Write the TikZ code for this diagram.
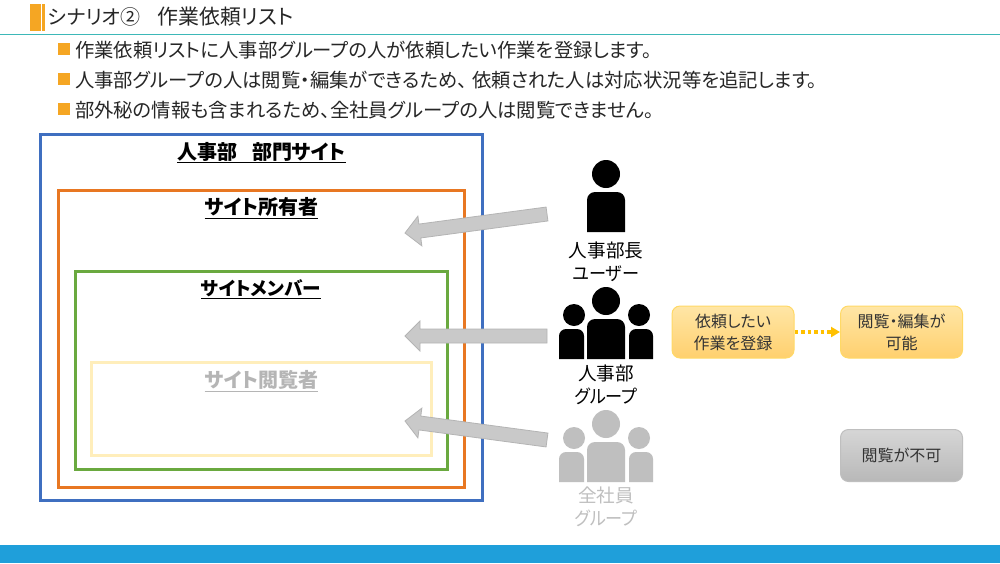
\documentclass[tikz,border=0pt]{standalone}
\usepackage{fontspec}
\usepackage{graphicx}
\setmainfont[RawFeature=+palt]{Noto Sans CJK JP}
\usetikzlibrary{calc,arrows.meta}
\definecolor{cBlue}{HTML}{3F6FC0}
\definecolor{cOrange}{HTML}{E87722}
\definecolor{cGreen}{HTML}{6AA93F}
\definecolor{cCream}{HTML}{FFEEBB}
\definecolor{cAccent}{HTML}{F5A623}
\definecolor{cTeal}{HTML}{3DB8B8}
\definecolor{cBar}{HTML}{1F9FDA}
\definecolor{cGrayP}{HTML}{BFBFBF}
\definecolor{cHead}{HTML}{B5B5B5}
\definecolor{cArrow}{HTML}{C9C9C9}
\definecolor{cArrowE}{HTML}{B4B4B4}
\definecolor{cDot}{HTML}{FFC000}
\definecolor{cGoldT}{HTML}{FFE6A6}
\definecolor{cGoldB}{HTML}{FFD06E}
\definecolor{cGoldE}{HTML}{FFD966}
\definecolor{cGrayT}{HTML}{D6D6D6}
\definecolor{cGrayB}{HTML}{B8B8B8}
\definecolor{cGrayE}{HTML}{BFBFBF}
\newcommand{\narrowkana}[1]{\scalebox{0.92}[1]{#1}}
\tikzset{
  framebox/.style={draw=#1,line width=3pt,fill=none},
  bul/.style={fill=cAccent,draw=none},
  bodytext/.style={anchor=west,inner sep=0pt,font=\fontsize{19.35}{19}\selectfont,text=black!85},
  hdr/.style={inner sep=0pt,font=\fontsize{20}{20}\bfseries\selectfont,text=black},
  lbl/.style={inner sep=0pt,align=center,font=\fontsize{18.6}{23}\selectfont,text=#1},
  lbl/.default=black,
  softbox/.style={rounded corners=8pt,line width=1pt,
     inner sep=0pt,align=center,minimum width=122pt,minimum height=52pt,
     font=\fontsize{16}{22}\selectfont,text=black!80},
  yellowbox/.style={softbox,draw=cGoldE,top color=cGoldT,bottom color=cGoldB},
  graybox/.style={softbox,draw=cGrayE,top color=cGrayT,bottom color=cGrayB},
  blockarrow/.style={fill=cArrow,draw=cArrowE,line width=0.8pt,line join=miter},
  dotarrow/.style={draw=cDot,line width=3.5pt,dash pattern=on 3.5pt off 3pt,
     -{Triangle[length=9pt,width=10pt,fill=cDot]}},
}
\newcommand{\blockarr}[2]{%
  \coordinate (ba1) at ($(#2)!15pt!(#1)$);
  \draw[blockarrow] ($(#1)!7pt!90:(#2)$) -- ($(ba1)!7pt!90:(#2)$) -- ($(ba1)!15pt!90:(#2)$) -- (#2)
    -- ($(ba1)!15pt!-90:(#2)$) -- ($(ba1)!7pt!-90:(#2)$) -- ($(#1)!7pt!-90:(#2)$) -- cycle;}
\newcommand{\groupfig}[2]{% y offset, colour
  \fill[#2] (606,301+#1) circle (14);
  \fill[#2] (574,315+#1) circle (11);
  \fill[#2] (639,315+#1) circle (11);
  \fill[#2,rounded corners=8pt] (587,359+#1) [sharp corners] -- (587,340+#1) [rounded corners=8pt] -- (587,319+#1) -- (625,319+#1) -- (625,340+#1) [sharp corners] -- (625,359+#1) -- cycle;
  \fill[#2,rounded corners=7pt] (559,359+#1) [sharp corners] -- (559,345+#1) [rounded corners=7pt] -- (559,329+#1) -- (584,329+#1) [sharp corners] -- (584,359+#1) -- cycle;
  \fill[#2,rounded corners=7pt] (653,359+#1) [sharp corners] -- (653,345+#1) [rounded corners=7pt] -- (653,329+#1) -- (629,329+#1) [sharp corners] -- (629,359+#1) -- cycle;}
\begin{document}
\begin{tikzpicture}[x=1pt,y=-1pt]
\useasboundingbox (0,0) rectangle (1000,563);
\fill[white] (0,0) rectangle (1000,563);
% header
\fill[cAccent] (30,4) rectangle (41,31);
\fill[cAccent] (42,4) rectangle (44.5,31);
\node[anchor=west,inner sep=0pt,font=\fontsize{20}{20}\selectfont,text=black!85] (title) at (48,17) {シナリオ②\hspace{17pt}{\fontsize{20.9}{20}\selectfont 作業依頼リスト}};
\draw[cTeal,line width=1pt] (0,34) -- (1000,34);
% bullets
\fill[bul] (58,43) rectangle (70,55);
\fill[bul] (58,73) rectangle (70,85);
\fill[bul] (58,103) rectangle (70,115);
\node[bodytext] (t1) at (75,50) {作業依頼リストに人事部グループの人が依頼したい作業を登録します。};
\node[bodytext] (t2) at (75,80) {人事部グループの人は閲覧・編集ができるため、\hspace{5pt}依頼された人は対応状況等を追記します。};
\node[bodytext] (t3) at (75,110) {部外秘の情報も含まれるため、全社員グループの人は閲覧できません。};
% frames
\draw[framebox=cBlue] (40,134) rectangle (482.5,500.5);
\draw[framebox=cOrange] (58,190) rectangle (464.5,487.5);
\draw[framebox=cGreen] (75,271) rectangle (447.5,469.5);
\draw[framebox=cCream] (91,362) rectangle (431,455);
\node[hdr] (h1) at (261.5,152.5) {\underline{人事部\hspace{15pt}部門サイト}};
\node[hdr] (h2) at (261.5,208) {\underline{サイト所有者}};
\node[hdr,font=\fontsize{18.6}{18}\bfseries\selectfont] (h3) at (261,289) {\underline{サイトメンバー}};
\node[hdr,text=cHead] (h4) at (261.5,381) {\underline{サイト閲覧者}};
% arrows
\coordinate (a1s) at (547,214); \coordinate (a1e) at (405,233);
\coordinate (a2s) at (547,336); \coordinate (a2e) at (405,336);
\coordinate (a3s) at (547,440); \coordinate (a3e) at (405,421);
\blockarr{a1s}{a1e}
\blockarr{a2s}{a2e}
\blockarr{a3s}{a3e}
% people
\fill[black] (606,174) circle (14);
\fill[black,rounded corners=8pt] (587,232) [sharp corners] -- (587,210) [rounded corners=8pt] -- (587,192) -- (625,192) -- (625,210) [sharp corners] -- (625,232) -- cycle;
\groupfig{0}{black}
\groupfig{123}{cGrayP}
\node[lbl] (p1) at (606,262) {人事部長\\\narrowkana{ユーザー}};
\node[lbl] (p2) at (606,385) {人事部\\\narrowkana{グループ}};
\node[lbl=cGrayP] (p3) at (606,507) {全社員\\\narrowkana{グループ}};
% right boxes
\node[yellowbox] (b1) at (733,332) {依頼したい\\作業を登録};
\node[yellowbox] (b2) at (901.5,332) {閲覧・編集が\\可能};
\node[graybox] (b3) at (901.5,455.5) {閲覧が不可};
\draw[dotarrow] (b1) -- (b2);
% footer
\fill[cBar] (0,545) rectangle (1000,563);
\end{tikzpicture}
\end{document}
